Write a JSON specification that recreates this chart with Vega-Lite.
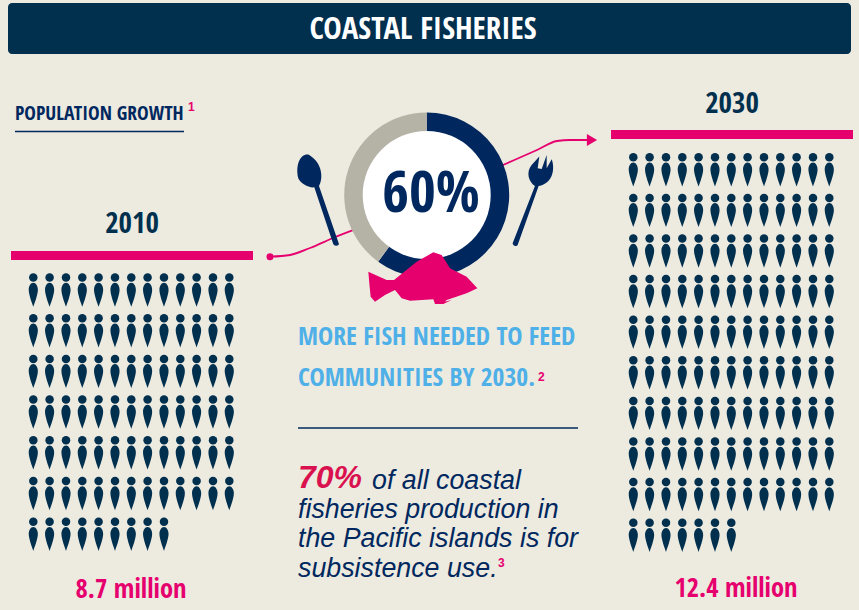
{"$schema":"https://vega.github.io/schema/vega-lite/v6.json","width":859,"height":610,"autosize":{"type":"fit","contains":"padding"},"padding":0,"background":"#edeae0","config":{"view":{"stroke":null}},
"datasets":{"people":[
{"x":33.3,"y":294.7},{"x":49.6,"y":294.7},{"x":66,"y":294.7},{"x":82.3,"y":294.7},{"x":98.6,"y":294.7},{"x":115,"y":294.7},{"x":131.3,"y":294.7},{"x":147.6,"y":294.7},{"x":164,"y":294.7},{"x":180.3,"y":294.7},{"x":196.6,"y":294.7},{"x":213,"y":294.7},{"x":229.3,"y":294.7},
{"x":33.3,"y":335.4},{"x":49.6,"y":335.4},{"x":66,"y":335.4},{"x":82.3,"y":335.4},{"x":98.6,"y":335.4},{"x":115,"y":335.4},{"x":131.3,"y":335.4},{"x":147.6,"y":335.4},{"x":164,"y":335.4},{"x":180.3,"y":335.4},{"x":196.6,"y":335.4},{"x":213,"y":335.4},{"x":229.3,"y":335.4},
{"x":33.3,"y":376.1},{"x":49.6,"y":376.1},{"x":66,"y":376.1},{"x":82.3,"y":376.1},{"x":98.6,"y":376.1},{"x":115,"y":376.1},{"x":131.3,"y":376.1},{"x":147.6,"y":376.1},{"x":164,"y":376.1},{"x":180.3,"y":376.1},{"x":196.6,"y":376.1},{"x":213,"y":376.1},{"x":229.3,"y":376.1},
{"x":33.3,"y":416.8},{"x":49.6,"y":416.8},{"x":66,"y":416.8},{"x":82.3,"y":416.8},{"x":98.6,"y":416.8},{"x":115,"y":416.8},{"x":131.3,"y":416.8},{"x":147.6,"y":416.8},{"x":164,"y":416.8},{"x":180.3,"y":416.8},{"x":196.6,"y":416.8},{"x":213,"y":416.8},{"x":229.3,"y":416.8},
{"x":33.3,"y":457.5},{"x":49.6,"y":457.5},{"x":66,"y":457.5},{"x":82.3,"y":457.5},{"x":98.6,"y":457.5},{"x":115,"y":457.5},{"x":131.3,"y":457.5},{"x":147.6,"y":457.5},{"x":164,"y":457.5},{"x":180.3,"y":457.5},{"x":196.6,"y":457.5},{"x":213,"y":457.5},{"x":229.3,"y":457.5},
{"x":33.3,"y":498.2},{"x":49.6,"y":498.2},{"x":66,"y":498.2},{"x":82.3,"y":498.2},{"x":98.6,"y":498.2},{"x":115,"y":498.2},{"x":131.3,"y":498.2},{"x":147.6,"y":498.2},{"x":164,"y":498.2},{"x":180.3,"y":498.2},{"x":196.6,"y":498.2},{"x":213,"y":498.2},{"x":229.3,"y":498.2},
{"x":33.3,"y":538.9},{"x":49.6,"y":538.9},{"x":66,"y":538.9},{"x":82.3,"y":538.9},{"x":98.6,"y":538.9},{"x":115,"y":538.9},{"x":131.3,"y":538.9},{"x":147.6,"y":538.9},{"x":164,"y":538.9},
{"x":633.3,"y":174.5},{"x":649.6,"y":174.5},{"x":666,"y":174.5},{"x":682.3,"y":174.5},{"x":698.6,"y":174.5},{"x":715,"y":174.5},{"x":731.3,"y":174.5},{"x":747.6,"y":174.5},{"x":764,"y":174.5},{"x":780.3,"y":174.5},{"x":796.6,"y":174.5},{"x":813,"y":174.5},{"x":829.3,"y":174.5},
{"x":633.3,"y":215.1},{"x":649.6,"y":215.1},{"x":666,"y":215.1},{"x":682.3,"y":215.1},{"x":698.6,"y":215.1},{"x":715,"y":215.1},{"x":731.3,"y":215.1},{"x":747.6,"y":215.1},{"x":764,"y":215.1},{"x":780.3,"y":215.1},{"x":796.6,"y":215.1},{"x":813,"y":215.1},{"x":829.3,"y":215.1},
{"x":633.3,"y":255.7},{"x":649.6,"y":255.7},{"x":666,"y":255.7},{"x":682.3,"y":255.7},{"x":698.6,"y":255.7},{"x":715,"y":255.7},{"x":731.3,"y":255.7},{"x":747.6,"y":255.7},{"x":764,"y":255.7},{"x":780.3,"y":255.7},{"x":796.6,"y":255.7},{"x":813,"y":255.7},{"x":829.3,"y":255.7},
{"x":633.3,"y":296.3},{"x":649.6,"y":296.3},{"x":666,"y":296.3},{"x":682.3,"y":296.3},{"x":698.6,"y":296.3},{"x":715,"y":296.3},{"x":731.3,"y":296.3},{"x":747.6,"y":296.3},{"x":764,"y":296.3},{"x":780.3,"y":296.3},{"x":796.6,"y":296.3},{"x":813,"y":296.3},{"x":829.3,"y":296.3},
{"x":633.3,"y":336.9},{"x":649.6,"y":336.9},{"x":666,"y":336.9},{"x":682.3,"y":336.9},{"x":698.6,"y":336.9},{"x":715,"y":336.9},{"x":731.3,"y":336.9},{"x":747.6,"y":336.9},{"x":764,"y":336.9},{"x":780.3,"y":336.9},{"x":796.6,"y":336.9},{"x":813,"y":336.9},{"x":829.3,"y":336.9},
{"x":633.3,"y":377.5},{"x":649.6,"y":377.5},{"x":666,"y":377.5},{"x":682.3,"y":377.5},{"x":698.6,"y":377.5},{"x":715,"y":377.5},{"x":731.3,"y":377.5},{"x":747.6,"y":377.5},{"x":764,"y":377.5},{"x":780.3,"y":377.5},{"x":796.6,"y":377.5},{"x":813,"y":377.5},{"x":829.3,"y":377.5},
{"x":633.3,"y":418.1},{"x":649.6,"y":418.1},{"x":666,"y":418.1},{"x":682.3,"y":418.1},{"x":698.6,"y":418.1},{"x":715,"y":418.1},{"x":731.3,"y":418.1},{"x":747.6,"y":418.1},{"x":764,"y":418.1},{"x":780.3,"y":418.1},{"x":796.6,"y":418.1},{"x":813,"y":418.1},{"x":829.3,"y":418.1},
{"x":633.3,"y":458.7},{"x":649.6,"y":458.7},{"x":666,"y":458.7},{"x":682.3,"y":458.7},{"x":698.6,"y":458.7},{"x":715,"y":458.7},{"x":731.3,"y":458.7},{"x":747.6,"y":458.7},{"x":764,"y":458.7},{"x":780.3,"y":458.7},{"x":796.6,"y":458.7},{"x":813,"y":458.7},{"x":829.3,"y":458.7},
{"x":633.3,"y":499.3},{"x":649.6,"y":499.3},{"x":666,"y":499.3},{"x":682.3,"y":499.3},{"x":698.6,"y":499.3},{"x":715,"y":499.3},{"x":731.3,"y":499.3},{"x":747.6,"y":499.3},{"x":764,"y":499.3},{"x":780.3,"y":499.3},{"x":796.6,"y":499.3},{"x":813,"y":499.3},{"x":829.3,"y":499.3},
{"x":633.3,"y":539.9},{"x":649.6,"y":539.9},{"x":666,"y":539.9},{"x":682.3,"y":539.9},{"x":698.6,"y":539.9},{"x":715,"y":539.9},{"x":731.3,"y":539.9}
]},
"layer":[
{"data":{"values":[{"x":8,"x2":851,"y":3,"y2":54}]},"mark":{"type":"rect","color":"#01304f","cornerRadius":4},"encoding":{"x":{"field":"x","type":"quantitative","scale":{"domain":[0,859],"nice":false,"zero":false},"axis":null},"x2":{"field":"x2"},"y":{"field":"y","type":"quantitative","scale":{"domain":[610,0],"nice":false,"zero":false},"axis":null},"y2":{"field":"y2"}}},
{"data":{"values":[{"x":11,"x2":253,"y":251,"y2":260},{"x":611,"x2":853,"y":130,"y2":139}]},"mark":{"type":"rect","color":"#e6006e"},"encoding":{"x":{"field":"x","type":"quantitative"},"x2":{"field":"x2"},"y":{"field":"y","type":"quantitative"},"y2":{"field":"y2"}}},
{"data":{"values":[{"x":15,"x2":184,"y":131.5},{"x":298,"x2":578,"y":428}]},"mark":{"type":"rule","color":"#00285e","strokeWidth":1.3},"encoding":{"x":{"field":"x","type":"quantitative"},"x2":{"field":"x2"},"y":{"field":"y","type":"quantitative"}}},
{"data":{"values":[{"o":1,"x":270,"y":256.7},{"o":2,"x":290,"y":255},{"o":3,"x":310,"y":248},{"o":4,"x":333,"y":238},{"o":5,"x":369,"y":224},{"o":6,"x":503,"y":165},{"o":7,"x":537,"y":150},{"o":8,"x":557,"y":141},{"o":9,"x":570,"y":140},{"o":10,"x":590,"y":140}]},"mark":{"type":"line","color":"#e6006e","strokeWidth":1.8,"interpolate":"monotone"},"encoding":{"x":{"field":"x","type":"quantitative"},"y":{"field":"y","type":"quantitative"},"order":{"field":"o"}}},
{"data":{"values":[{"x":270,"y":256.7}]},"mark":{"type":"point","filled":true,"opacity":1,"color":"#e6006e","shape":"circle","size":49},"encoding":{"x":{"field":"x","type":"quantitative"},"y":{"field":"y","type":"quantitative"}}},
{"data":{"values":[{"x":592,"y":140}]},"mark":{"type":"point","filled":true,"opacity":1,"color":"#e6006e","shape":"triangle-right","size":140},"encoding":{"x":{"field":"x","type":"quantitative"},"y":{"field":"y","type":"quantitative"}}},
{"data":{"values":[{"seg":"a","share":60,"o":1,"x":426.7,"y":195},{"seg":"b","share":40,"o":2,"x":426.7,"y":195}]},"mark":{"type":"arc","innerRadius":63,"outerRadius":82.5},"encoding":{"theta":{"field":"share","type":"quantitative","stack":true,"scale":{"domain":[0,100],"range":[0,6.2832]}},"order":{"field":"o"},"color":{"field":"seg","type":"nominal","scale":{"domain":["a","b"],"range":["#00285e","#b5b2a6"]},"legend":null},"x":{"field":"x","type":"quantitative"},"y":{"field":"y","type":"quantitative"}}},
{"data":{"values":[{"x":426.7,"y":195}]},"mark":{"type":"point","filled":true,"opacity":1,"color":"#ffffff","shape":"circle","size":16384},"encoding":{"x":{"field":"x","type":"quantitative"},"y":{"field":"y","type":"quantitative"}}},
{"data":{"values":[{"x":318.3,"y":200.7}]},"mark":{"type":"point","filled":true,"opacity":1,"color":"#00285e","size":8464,"shape":"M0.015,-0.32C0.109,-0.487,0.095,-0.815,-0.196,-0.996C-0.364,-1.047,-0.509,-0.815,-0.436,-0.487C-0.385,-0.378,-0.218,-0.276,-0.087,-0.291L0.327,0.945Q0.385,1.018,0.451,0.945Z"},"encoding":{"x":{"field":"x","type":"quantitative"},"y":{"field":"y","type":"quantitative"}}},
{"data":{"values":[{"x":533.3,"y":200.7}]},"mark":{"type":"point","filled":true,"opacity":1,"color":"#00285e","size":8464,"shape":"M-0.451,0.931L0.036,-0.32C-0.109,-0.415,-0.16,-0.633,-0.036,-0.778L0.131,-0.96L0.095,-0.705L0.182,-0.691L0.291,-0.996L0.291,-0.705L0.4,-0.902C0.473,-0.705,0.436,-0.378,0.116,-0.32L-0.342,0.967Q-0.415,1.018,-0.451,0.931Z"},"encoding":{"x":{"field":"x","type":"quantitative"},"y":{"field":"y","type":"quantitative"}}},
{"data":{"values":[{"x":423,"y":278}]},"mark":{"type":"point","filled":true,"opacity":1,"color":"#e6006e","size":12100,"shape":"M-0.994,-0.115L-0.661,0.036L-0.527,0.036L-0.115,-0.297L0.188,-0.467L0.339,-0.418L0.491,-0.176L0.794,-0.024L0.988,0.188L0.794,0.279L0.43,0.4L0.4,0.43L0.521,0.4L0.37,0.473L0.218,0.473L0.188,0.388L-0.236,0.412L-0.388,0.37L-0.509,0.218L-0.691,0.309L-0.873,0.43L-0.952,0.339L-0.976,0.097Z"},"encoding":{"x":{"field":"x","type":"quantitative"},"y":{"field":"y","type":"quantitative"}}},
{"data":{"name":"people"},"mark":{"type":"point","filled":true,"opacity":1,"color":"#01304f","shape":"circle","size":72,"yOffset":-17.2},"encoding":{"x":{"field":"x","type":"quantitative"},"y":{"field":"y","type":"quantitative"}}},
{"data":{"name":"people"},"mark":{"type":"point","filled":true,"opacity":1,"color":"#01304f","size":576,"shape":"M0,-1C0.22,-1,0.39,-0.7,0.38,-0.4C0.37,0,0.12,0.65,0,1C-0.12,0.65,-0.37,0,-0.38,-0.4C-0.39,-0.7,-0.22,-1,0,-1Z"},"encoding":{"x":{"field":"x","type":"quantitative"},"y":{"field":"y","type":"quantitative"}}},
{"data":{"values":[{"t":"COASTAL FISHERIES","x":423,"y":30}]},"mark":{"type":"text","font":"Open Sans Condensed","fontWeight":"bold","fontSize":31,"color":"#ffffff","align":"center","baseline":"middle"},"encoding":{"x":{"field":"x","type":"quantitative"},"y":{"field":"y","type":"quantitative"},"text":{"field":"t"}}},
{"data":{"values":[{"t":"POPULATION GROWTH","x":15,"y":120}]},"mark":{"type":"text","font":"Open Sans Condensed","fontWeight":"bold","fontSize":19.5,"color":"#00285e","align":"left","baseline":"alphabetic"},"encoding":{"x":{"field":"x","type":"quantitative"},"y":{"field":"y","type":"quantitative"},"text":{"field":"t"}}},
{"data":{"values":[{"t":"2010","x":132,"y":224},{"t":"2030","x":732,"y":104}]},"mark":{"type":"text","font":"Open Sans Condensed","fontWeight":"bold","fontSize":29,"color":"#01304f","align":"center","baseline":"middle"},"encoding":{"x":{"field":"x","type":"quantitative"},"y":{"field":"y","type":"quantitative"},"text":{"field":"t"}}},
{"data":{"values":[{"t":"8.7 million","x":131,"y":590},{"t":"12.4 million","x":736,"y":589}]},"mark":{"type":"text","font":"Open Sans Condensed","fontWeight":"bold","fontSize":26.5,"color":"#e6006e","align":"center","baseline":"middle"},"encoding":{"x":{"field":"x","type":"quantitative"},"y":{"field":"y","type":"quantitative"},"text":{"field":"t"}}},
{"data":{"values":[{"t":"60%","x":431,"y":195}]},"mark":{"type":"text","font":"Open Sans Condensed","fontWeight":"bold","fontSize":58,"color":"#00285e","align":"center","baseline":"middle"},"encoding":{"x":{"field":"x","type":"quantitative"},"y":{"field":"y","type":"quantitative"},"text":{"field":"t"}}},
{"data":{"values":[{"t":"MORE FISH NEEDED TO FEED","x":298,"y":337},{"t":"COMMUNITIES BY 2030.","x":298,"y":378}]},"mark":{"type":"text","font":"Open Sans Condensed","fontWeight":"bold","fontSize":25.6,"color":"#4fb0e8","align":"left","baseline":"middle"},"encoding":{"x":{"field":"x","type":"quantitative"},"y":{"field":"y","type":"quantitative"},"text":{"field":"t"}}},
{"data":{"values":[{"t":"1","x":188,"y":107},{"t":"2","x":538,"y":377},{"t":"3","x":498,"y":563}]},"mark":{"type":"text","font":"Liberation Sans","fontWeight":"bold","fontSize":12,"color":"#e6006e","align":"left","baseline":"middle"},"encoding":{"x":{"field":"x","type":"quantitative"},"y":{"field":"y","type":"quantitative"},"text":{"field":"t"}}},
{"data":{"values":[{"t":"70%","x":298,"y":488}]},"mark":{"type":"text","font":"Liberation Sans","fontWeight":"bold","fontStyle":"italic","fontSize":32,"color":"#d9124f","align":"left","baseline":"alphabetic"},"encoding":{"x":{"field":"x","type":"quantitative"},"y":{"field":"y","type":"quantitative"},"text":{"field":"t"}}},
{"data":{"values":[{"t":"of all coastal","x":372,"y":489},{"t":"fisheries production in","x":298,"y":518},{"t":"the Pacific islands is for","x":298,"y":547},{"t":"subsistence use.","x":298,"y":577}]},"mark":{"type":"text","font":"Liberation Sans","fontStyle":"italic","fontSize":26.8,"color":"#00285e","align":"left","baseline":"alphabetic"},"encoding":{"x":{"field":"x","type":"quantitative"},"y":{"field":"y","type":"quantitative"},"text":{"field":"t"}}}
]}
